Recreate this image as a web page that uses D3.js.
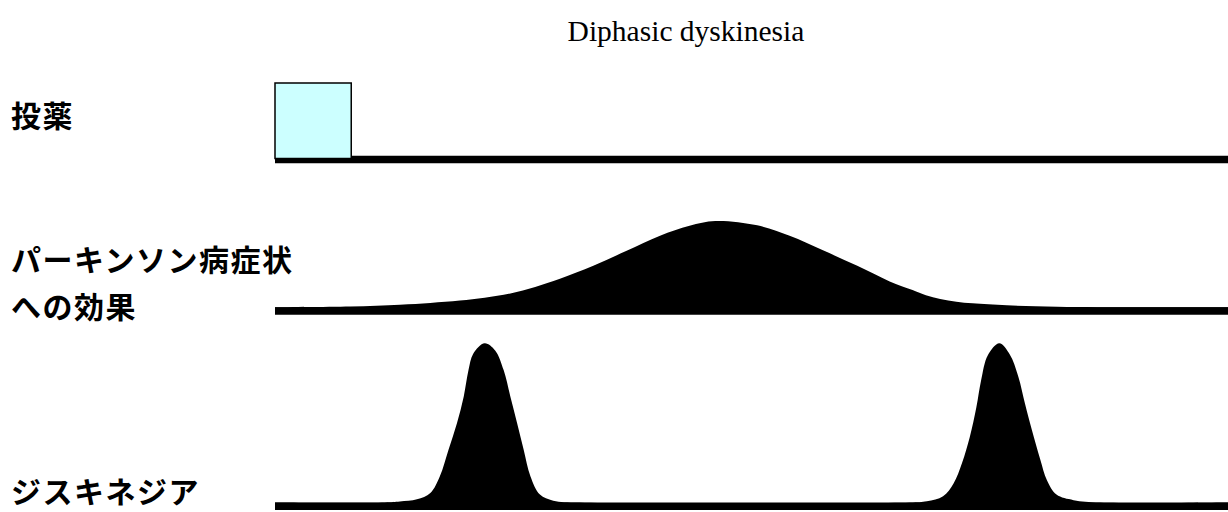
<!DOCTYPE html>
<html>
<head>
<meta charset="utf-8">
<script src="https://cdn.jsdelivr.net/npm/d3@7"></script>
<style>
  html, body { margin: 0; padding: 0; background: #fff; }
</style>
</head>
<body>
<div id="chart"></div>
<script>
// data
const chartTitle = "Diphasic dyskinesia";
const rowLabels = [["投薬"], ["パーキンソン病症状", "への効果"], ["ジスキネジア"]];
const timeDomain = [0, 100];
// dosing window (start, end) and its level
const doseWindow = [0, 8];
const doseLevel = 1;
// effect on parkinsonian symptoms
const effectTimes  = [0, 7.9, 13.1, 16.3, 19.4, 22.0, 24.7, 27.3, 29.9, 33.4, 36.9, 40.4, 43.5, 46.2, 50.6, 54.0, 57.5, 61.1, 64.5, 66.9, 68.3, 69.8, 71.5, 73.2, 76.8, 82.1, 90.8, 100];
const effectValues = [0, 0.008, 0.03, 0.05, 0.077, 0.11, 0.16, 0.235, 0.33, 0.48, 0.655, 0.83, 0.945, 1.0, 0.95, 0.83, 0.66, 0.48, 0.30, 0.20, 0.14, 0.095, 0.065, 0.045, 0.022, 0.006, 0, 0];
// dyskinesia (two phases)
const dyskTimes  = [0, 11.5, 13.1, 14.9, 16.3, 17.3, 18.2, 19.1, 19.8, 20.3, 20.8, 22.0, 23.1, 24.0, 24.7, 25.4, 26.1, 26.8, 27.8, 29.2, 32.0,
                    66.6, 68.4, 70.1, 71.2, 72.1, 72.9, 73.6, 74.1, 74.8, 76.0, 77.1, 78.0, 78.7, 79.4, 80.3, 81.0, 82.0, 83.8, 86.6, 100];
const dyskValues = [0, 0, 0.006, 0.02, 0.06, 0.165, 0.33, 0.50, 0.665, 0.83, 0.935, 1.0, 0.955, 0.83, 0.665, 0.50, 0.33, 0.165, 0.05, 0.012, 0,
                    0, 0.008, 0.04, 0.12, 0.25, 0.41, 0.60, 0.77, 0.925, 1.0, 0.93, 0.79, 0.62, 0.46, 0.27, 0.14, 0.05, 0.015, 0, 0];

const width = 1228, height = 512;
const svg = d3.select("#chart").append("svg")
    .attr("width", width)
    .attr("height", height)
    .attr("viewBox", [0, 0, width, height]);

const x = d3.scaleLinear().domain(timeDomain).range([275, 1228]);

// title
svg.append("text")
    .attr("x", 686).attr("y", 41)
    .attr("text-anchor", "middle")
    .attr("font-family", "'Liberation Serif', 'Times New Roman', serif")
    .attr("font-size", 29.5)
    .text(chartTitle);

// row layout: baseline centre, top of scale
const rows = [
  {base: 159.5, top: 83},
  {base: 311, top: 221},
  {base: 506.3, top: 343.3}
];
const lineW = 7.5;

const yScale = r => d3.scaleLinear().domain([0, 1]).range([r.base - lineW / 2, r.top]);

// row 1 : dosing box
const y1 = yScale(rows[0]);
svg.append("line")
    .attr("x1", x(timeDomain[0])).attr("x2", x(timeDomain[1]))
    .attr("y1", rows[0].base).attr("y2", rows[0].base)
    .attr("stroke", "#000").attr("stroke-width", lineW);
svg.append("rect")
    .attr("x", x(doseWindow[0]))
    .attr("y", y1(doseLevel))
    .attr("width", x(doseWindow[1]) - x(doseWindow[0]))
    .attr("height", rows[0].base - 1 - y1(doseLevel))
    .attr("fill", "#CCFFFF")
    .attr("stroke", "#000")
    .attr("stroke-width", 1.5);

// rows 2,3 : filled curves
const series = [
  {row: rows[1], t: effectTimes, v: effectValues},
  {row: rows[2], t: dyskTimes, v: dyskValues}
];
series.forEach(s => {
  const y = yScale(s.row);
  const pts = s.t.map((t, i) => [t, s.v[i]]);
  const area = d3.area()
      .x(d => x(d[0]))
      .y0(s.row.base)
      .y1(d => y(d[1]))
      .curve(d3.curveCatmullRom.alpha(0.5));
  svg.append("path")
      .datum(pts)
      .attr("d", area)
      .attr("fill", "#000");
  svg.append("line")
      .attr("x1", x(timeDomain[0])).attr("x2", x(timeDomain[1]))
      .attr("y1", s.row.base).attr("y2", s.row.base)
      .attr("stroke", "#000").attr("stroke-width", lineW);
});

// labels
const labelRows = [[127], [271, 318], [503]];
rowLabels.forEach((lines, i) => {
  lines.forEach((txt, j) => {
    svg.append("text")
        .attr("x", 11)
        .attr("y", labelRows[i][j])
        .attr("font-family", "'Noto Sans CJK JP', sans-serif")
        .attr("font-weight", "bold")
        .attr("font-size", 30)
        .attr("letter-spacing", 1.5)
        .text(txt);
  });
});
</script>
</body>
</html>
